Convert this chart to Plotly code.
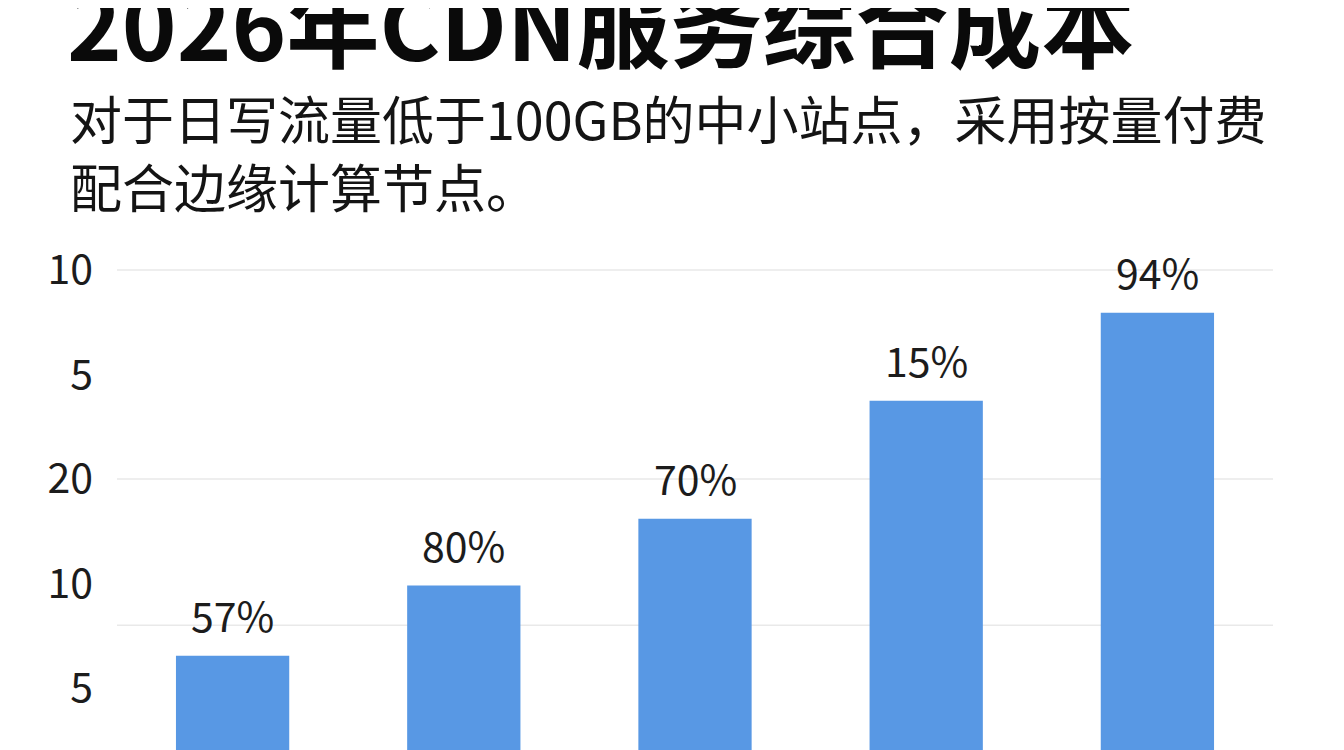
import plotly.graph_objects as go

# ---- data ----
categories = ["C1", "C2", "C3", "C4", "C5"]
bar_values = [13.1, 19.8, 26.2, 37.5, 45.9]
bar_labels = ["57%", "80%", "70%", "15%", "94%"]
tick_values = [50, 40, 30, 20, 10]
tick_labels = ["10", "5", "20", "10", "5"]
grid_values = [50, 30, 16]

title_text = "2026年CDN服务综合成本"
subtitle_text = "对于日写流量低于100GB的中小站点，采用按量付费<br>配合边缘计算节点。"

FONT = "Noto Sans CJK SC"
BAR_COLOR = "#5898E4"

# page body has an 8px margin: figure pixel = page pixel - 8
OFF = 8
ML, MT = 117 - OFF, 240 - OFF
PW = 1273 - 117
PH = 510
W, H = 1344, 750
MR = W - ML - PW
MB = H - MT - PH

fig = go.Figure()
fig.add_trace(go.Bar(
    x=categories,
    y=bar_values,
    marker=dict(color=BAR_COLOR, line=dict(width=0)),
    hoverinfo="skip",
))

for c, v, t in zip(categories, bar_values, bar_labels):
    fig.add_annotation(
        x=c, y=v, xref="x", yref="y", text=t, showarrow=False,
        yanchor="middle", yshift=42,
        font=dict(family=FONT, size=41, color="#1c1c1c"),
    )

for g in grid_values:
    fig.add_shape(
        type="line", xref="paper", x0=0, x1=1, yref="y", y0=g, y1=g,
        line=dict(color="#e9e9e9", width=1.5), layer="below",
    )

def px_x(page_x):
    return (page_x - OFF - ML) / PW

def px_y(page_y):
    return 1 + (MT - (page_y - OFF)) / PH

fig.add_annotation(
    xref="paper", yref="paper", x=px_x(65), y=px_y(21),
    xanchor="left", yanchor="middle",
    text=title_text, showarrow=False,
    font=dict(family=FONT, size=93, color="#0a0a0a", weight=700),
)
fig.add_annotation(
    xref="paper", yref="paper", x=px_x(68), xanchor="left",
    y=px_y(152), yanchor="middle", align="left",
    text=subtitle_text, showarrow=False,
    font=dict(family=FONT, size=52, color="#141414"),
)

fig.update_layout(
    width=W, height=H,
    margin=dict(l=ML, r=MR, t=MT, b=MB),
    paper_bgcolor="#ffffff", plot_bgcolor="#ffffff",
    showlegend=False,
    bargap=0.51,
    xaxis=dict(showticklabels=False, showgrid=False, zeroline=False,
               showline=False, ticks=""),
    yaxis=dict(range=[4.07, 52.87], tickvals=tick_values, ticktext=tick_labels,
               showgrid=False, zeroline=False, showline=False, ticks="",
               ticklabelstandoff=23,
               tickfont=dict(family=FONT, size=41, color="#1c1c1c")),
)

fig.write_html("out.html")
